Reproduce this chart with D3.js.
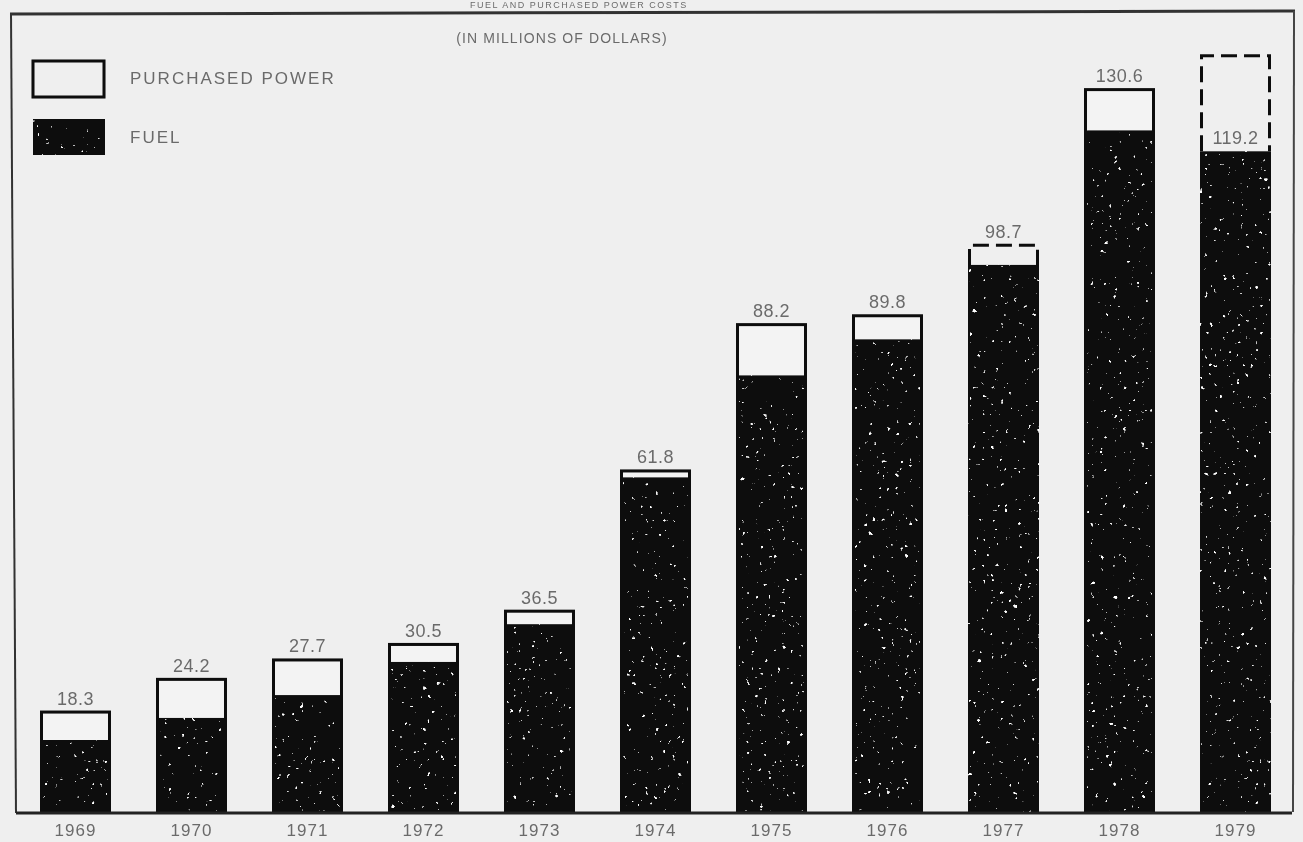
<!DOCTYPE html>
<html>
<head>
<meta charset="utf-8">
<script src="https://cdn.jsdelivr.net/npm/d3@7"></script>
<style>
  html, body { margin: 0; padding: 0; background: #efefef; }
  svg { display: block; }
  text { font-family: "Liberation Sans", Arial, Helvetica, sans-serif; fill: #6b6b6b; }
</style>
</head>
<body>
<svg id="chart" width="1303" height="842"></svg>
<script>
// Fuel and purchased power costs, millions of dollars
const years = ["1969", "1970", "1971", "1972", "1973", "1974", "1975", "1976", "1977", "1978", "1979"];
const fuel = [13.0, 17.0, 21.1, 27.1, 33.9, 60.4, 78.8, 85.3, 98.7, 123.0, 119.2];
const purchasedPower = [5.3, 7.2, 6.6, 3.4, 2.6, 1.4, 9.4, 4.5, 3.8, 7.6, 17.5];
const valueLabels = ["18.3", "24.2", "27.7", "30.5", "36.5", "61.8", "88.2", "89.8", "98.7", "130.6", "119.2"];
// years whose purchased power portion is shown as an estimate (dashed outline)
const estimatedYears = ["1977", "1979"];
// years whose value label sits inside the dashed portion
const insideLabelYears = ["1979"];
const legendLabels = ["PURCHASED POWER", "FUEL"];
const subtitle = "(IN MILLIONS OF DOLLARS)";
const title = "FUEL AND PURCHASED POWER COSTS";

const svg = d3.select("#chart");
const W = 1303, H = 842;
const BG = "#efefef", INK = "#0b0b0b";

svg.append("rect").attr("width", W).attr("height", H).attr("fill", BG);

const defs = svg.append("defs");
// soft scan look
defs.append("filter").attr("id", "soft")
  .append("feGaussianBlur").attr("stdDeviation", 0.6);
// sparse light speckle on the solid fuel bars
const sp = defs.append("filter").attr("id", "speckle")
  .attr("x", 0).attr("y", 0).attr("width", 1).attr("height", 1);
sp.append("feTurbulence").attr("type", "fractalNoise").attr("baseFrequency", 0.22)
  .attr("numOctaves", 2).attr("seed", 7).attr("result", "noise");
sp.append("feColorMatrix").attr("in", "noise").attr("type", "matrix")
  .attr("values", "0 0 0 0 1  0 0 0 0 1  0 0 0 0 1  16 0 0 0 -11.6").attr("result", "dots");
sp.append("feComposite").attr("in", "dots").attr("in2", "SourceGraphic").attr("operator", "in").attr("result", "clipped");
const mg = sp.append("feMerge");
mg.append("feMergeNode").attr("in", "SourceGraphic");
mg.append("feMergeNode").attr("in", "clipped");

const g = svg.append("g").attr("filter", "url(#soft)");

const x = d3.scaleBand().domain(years).range([40, 1271]).paddingInner(0.388).paddingOuter(0);
const y = d3.scaleLinear().domain([0, 140]).range([812, 36]);

// title above the frame
g.append("text").attr("x", 470).attr("y", 8).attr("font-size", 9)
  .attr("letter-spacing", 1.5).text(title);

// frame
g.append("line").attr("x1", 10).attr("x2", 1295).attr("y1", 14).attr("y2", 11)
  .attr("stroke", "#333").attr("stroke-width", 3);
g.append("line").attr("x1", 11).attr("x2", 16).attr("y1", 13).attr("y2", 813)
  .attr("stroke", "#333").attr("stroke-width", 2);
g.append("line").attr("x1", 1294).attr("x2", 1293).attr("y1", 11).attr("y2", 812)
  .attr("stroke", "#444").attr("stroke-width", 2);

// subtitle
g.append("text").attr("x", 562).attr("y", 43).attr("text-anchor", "middle")
  .attr("font-size", 14).attr("letter-spacing", 1.1).text(subtitle);

// legend
const legend = g.append("g");
legend.append("rect").attr("x", 33).attr("y", 61).attr("width", 71).attr("height", 36)
  .attr("fill", BG).attr("stroke", INK).attr("stroke-width", 3);
legend.append("rect").attr("x", 33).attr("y", 119).attr("width", 72).attr("height", 36)
  .attr("fill", INK).attr("filter", "url(#speckle)");
legend.append("text").attr("x", 130).attr("y", 84).attr("font-size", 17)
  .attr("letter-spacing", 2).text(legendLabels[0]);
legend.append("text").attr("x", 130).attr("y", 143).attr("font-size", 17)
  .attr("letter-spacing", 2).text(legendLabels[1]);

// bars
const data = years.map((yr, i) => ({
  year: yr, fuel: fuel[i], pp: purchasedPower[i], total: fuel[i] + purchasedPower[i],
  label: valueLabels[i], est: estimatedYears.includes(yr), inside: insideLabelYears.includes(yr)
}));

const bars = g.selectAll("g.bar").data(data).join("g").attr("class", "bar");
const bw = x.bandwidth();

bars.append("rect")
  .attr("x", d => x(d.year)).attr("width", bw)
  .attr("y", d => y(d.fuel)).attr("height", d => y(0) - y(d.fuel))
  .attr("fill", INK).attr("filter", "url(#speckle)");

// solid purchased power segment with outline around the whole bar
bars.filter(d => !d.est).append("rect")
  .attr("x", d => x(d.year) + 1.5).attr("width", bw - 3)
  .attr("y", d => y(d.total) + 1.5).attr("height", d => Math.max(0, y(d.fuel) - y(d.total) - 1.5))
  .attr("fill", "#f3f3f3");
bars.filter(d => !d.est).append("rect")
  .attr("x", d => x(d.year) + 1.5).attr("width", bw - 3)
  .attr("y", d => y(d.total) + 1.5).attr("height", d => y(0) - y(d.total) - 1.5)
  .attr("fill", "none").attr("stroke", INK).attr("stroke-width", 3);

// estimated purchased power: dashed open box on top of the fuel bar
bars.filter(d => d.est).append("path")
  .attr("d", d => {
    const x0 = x(d.year) + 1.5, x1 = x(d.year) + bw - 1.5;
    const yt = y(d.total) + 1.5, yb = y(d.fuel);
    return `M${x0},${yb}V${yt}H${x1}V${yb}`;
  })
  .attr("fill", "none").attr("stroke", INK).attr("stroke-width", 3)
  .attr("stroke-dasharray", "16,7");

// value labels
bars.append("text")
  .attr("x", d => x(d.year) + bw / 2)
  .attr("y", d => d.inside ? y(d.fuel) - 7 : y(d.total) - 6)
  .attr("text-anchor", "middle").attr("font-size", 18).attr("letter-spacing", 0.5)
  .text(d => d.label);

// baseline and year axis
g.append("line").attr("x1", 16).attr("x2", 1292).attr("y1", y(0) + 1).attr("y2", y(0) + 1)
  .attr("stroke", "#222").attr("stroke-width", 3);

const axis = d3.axisBottom(x).tickSize(0).tickPadding(11);
const ax = g.append("g").attr("transform", `translate(0,${y(0) + 1})`).call(axis);
ax.select(".domain").remove();
ax.selectAll("text").attr("font-size", 17).attr("letter-spacing", 1)
  .attr("fill", "#6b6b6b").attr("font-family", "Liberation Sans, Arial, sans-serif");
</script>
</body>
</html>
